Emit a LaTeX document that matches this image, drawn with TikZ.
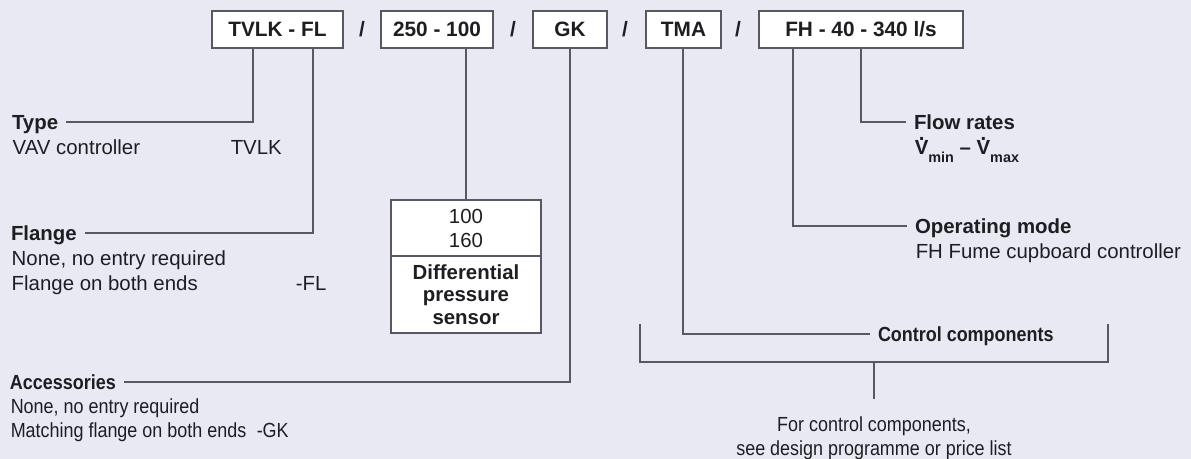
\documentclass[tikz,border=0pt]{standalone}
\usepackage{fontspec}
\usepackage{graphicx}
\setmainfont{Liberation Sans}
\usetikzlibrary{positioning}

\definecolor{paper}{RGB}{233,233,243}
\definecolor{wire}{RGB}{88,88,98}
\definecolor{ink}{RGB}{30,30,34}

\newcommand{\lblfont}{\fontsize{10.2}{12.5}\selectfont}
\newcommand{\dotV}{\leavevmode\rlap{\smash{\hspace{0.2em}\raisebox{0.72em}{.}}}V}
\newcommand{\lowtext}[1]{\raisebox{-0.35em}{\fontsize{7.2}{7.2}\selectfont #1}}
\newcommand{\narrow}[1]{\scalebox{0.88}[1]{#1}}

\tikzset{every picture/.style={line width=0.75pt}}

\begin{document}
\begin{tikzpicture}[x=0.5pt,y=0.5pt,yscale=-1,
	codebox/.style={draw=wire, fill=white, minimum height=18.5pt, inner sep=0pt, text height=7.4pt, text depth=0pt, text=ink, font=\fontsize{10.4}{12.5}\selectfont\bfseries},
	slash/.style={inner sep=0pt, text height=7.4pt, text depth=0pt, text=ink, font=\fontsize{10.4}{12.5}\selectfont\bfseries},
	link/.style={draw=wire},
	title/.style={anchor=west, inner sep=0pt, outer xsep=4pt, text height=7.3pt, text depth=0pt, text=ink, font=\lblfont\bfseries},
	desc/.style={anchor=base west, inner sep=0pt, text=ink, font=\lblfont},
	sensorbox/.style={draw=wire, fill=white, minimum width=75pt, inner sep=0pt, outer sep=0pt, align=center, text=ink}]
	% Background and page size
	\fill[paper] (0,0) rectangle (1191,459);
	\useasboundingbox (0,0) rectangle (1191,459);
	
	% Order code boxes
	\node[codebox, minimum width=65.5pt] (tvlk) at (277.5,29.5) {TVLK - FL};
	\node[slash] (s1) at (362,29.5) {/};
	\node[codebox, minimum width=56pt] (size) at (437,29.5) {250 - 100};
	\node[slash] (s2) at (513,29.5) {/};
	\node[codebox, minimum width=37pt] (gk) at (570,29.5) {GK};
	\node[slash] (s3) at (625,29.5) {/};
	\node[codebox, minimum width=37.5pt] (tma) at (683.5,29.5) {TMA};
	\node[slash] (s4) at (738,29.5) {/};
	\node[codebox, minimum width=102pt] (fh) at (861,29.5) {FH - 40 - 340 l/s};
	
	% Tap points under the boxes
	\coordinate (tapType) at (253,48);
	\coordinate (tapFlange) at (313,48);
	\coordinate (tapDp) at (466,48);
	\coordinate (tapAcc) at (570,48);
	\coordinate (tapCtrl) at (683,48);
	\coordinate (tapMode) at (793,48);
	\coordinate (tapFlow) at (861,48);
	
	% Left descriptions
	\node[title] (type) at (4,122) {Type};
	\node[desc] (typeDesc) at (12,155) {VAV controller};
	\node[desc] (typeCode) at (230,155) {TVLK};
	
	\node[title] (flange) at (3,233) {Flange};
	\node[desc] (flangeNone) at (11,266) {None, no entry required};
	\node[desc] (flangeBoth) at (11,291) {Flange on both ends};
	\node[desc] (flangeCode) at (295,291) {-FL};
	
	\node[title] (acc) at (2,382) {\narrow{Accessories}};
	\node[desc] (accNone) at (10,414) {\narrow{None, no entry required}};
	\node[desc] (accBoth) at (10,438) {\narrow{Matching flange on both ends}};
	\node[desc] (accCode) at (256,438) {\narrow{-GK}};
	
	% Differential pressure sensor
	\node[sensorbox, minimum height=28pt, font=\fontsize{10.2}{12}\selectfont] (dpNum) at (466,228) {100\\160};
	\node[sensorbox, minimum height=38.5pt, below=0pt of dpNum, font=\fontsize{10.2}{11.25}\selectfont\bfseries] (dpName) {Differential\\pressure\\sensor};
	
	% Right descriptions
	\node[title] (flow) at (906,122) {Flow rates};
	\node[desc, font=\lblfont\bfseries] (flowDesc) at (914,155) {\dotV\lowtext{min} -- \dotV\lowtext{max}};
	
	\node[title] (mode) at (907,226) {Operating mode};
	\node[desc] (modeDesc) at (915,259) {FH Fume cupboard controller};
	
	\node[title] (ctrl) at (870,334) {\narrow{Control components}};
	\node[desc, anchor=base] (noteA) at (874,432) {\narrow{For control components,}};
	\node[desc, anchor=base] (noteB) at (874,456) {\narrow{see design programme or price list}};
	
	% Connectors
	\draw[link] (tapType) |- (type.east);
	\draw[link] (tapFlange) |- (flange.east);
	\draw[link] (tapDp) -- (dpNum);
	\draw[link] (tapAcc) |- (acc.east);
	\draw[link] (tapCtrl) |- (ctrl.west);
	\draw[link] (tapMode) |- (mode.west);
	\draw[link] (tapFlow) |- (flow.west);
	
	% Bracket over the control components
	\coordinate (brL) at (640,324);
	\coordinate (brR) at (1108,324);
	\coordinate (brMid) at (874,362);
	\coordinate (stemEnd) at (874,399);
	\draw[link] (brL) |- (brMid) -| (brR);
	\draw[link] (brMid) -- (stemEnd);
\end{tikzpicture}
\end{document}
